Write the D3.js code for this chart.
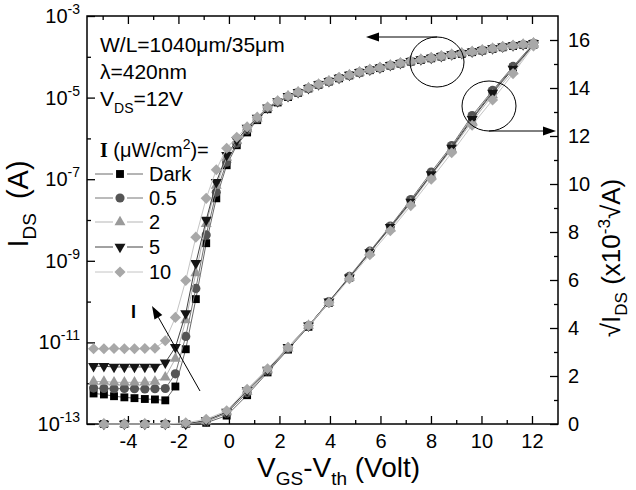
<!DOCTYPE html>
<html><head><meta charset="utf-8">
<script src="https://cdn.jsdelivr.net/npm/d3@7"></script>
<style>
body{margin:0;background:#fff}
svg{display:block}
text{font-family:"Liberation Sans",Arial,sans-serif;fill:#000}
</style>
</head><body>
<svg id="c" width="636" height="490"></svg>
<script>
// ---------- data ----------
const seriesNames = ["Dark", "0.5", "2", "5", "10"];

// V_GS - V_th sweep (V) for the log(I_DS) curves
const vgs = [-5.36, -4.95, -4.55, -4.14, -3.74, -3.33, -2.93, -2.52, -2.12, -1.71,
  -1.31, -0.90, -0.50, -0.09, 0.31, 0.72, 1.12, 1.53, 1.93, 2.34,
  2.74, 3.15, 3.55, 3.96, 4.36, 4.77, 5.17, 5.58, 5.98, 6.39,
  6.79, 7.20, 7.60, 8.01, 8.41, 8.82, 9.22, 9.63, 10.03, 10.44,
  10.84, 11.25, 11.65, 12.06];

// I_DS (A)
const idsDark = [5.6e-13, 5.3e-13, 4.8e-13, 4.5e-13, 4.3e-13, 4.1e-13, 4.0e-13, 3.8e-13, 8.3e-13, 6.8e-12,
  1.15e-10, 2.7e-9, 3.4e-8, 2.2e-7, 6.8e-7, 1.4e-6, 2.8e-6, 5.2e-6, 7.6e-6, 1.03e-5,
  1.31e-5, 1.67e-5, 2.06e-5, 2.47e-5, 2.97e-5, 3.49e-5, 4.10e-5, 4.70e-5, 5.28e-5, 6.06e-5,
  6.80e-5, 7.62e-5, 8.36e-5, 9.17e-5, 1.01e-4, 1.10e-4, 1.18e-4, 1.30e-4, 1.42e-4, 1.56e-4,
  1.71e-4, 1.83e-4, 1.96e-4, 2.10e-4];
const ids05 = [7.6e-13, 7.4e-13, 7.3e-13, 7.4e-13, 7.3e-13, 7.2e-13, 7.3e-13, 7.4e-13, 1.7e-12, 1.4e-11,
  2.1e-10, 4.3e-9, 4.8e-8, 2.6e-7, 7.6e-7, 1.6e-6, 3.0e-6, 5.5e-6, 7.9e-6, 1.06e-5,
  1.34e-5, 1.69e-5, 2.08e-5, 2.50e-5, 3.00e-5, 3.53e-5, 4.15e-5, 4.76e-5, 5.34e-5, 6.13e-5,
  6.88e-5, 7.71e-5, 8.46e-5, 9.28e-5, 1.02e-4, 1.12e-4, 1.20e-4, 1.31e-4, 1.44e-4, 1.58e-4,
  1.73e-4, 1.86e-4, 1.98e-4, 2.13e-4];
const ids2 = [1.1e-12, 1.1e-12, 1.05e-12, 1.05e-12, 1.05e-12, 1.05e-12, 1.1e-12, 1.4e-12, 4.0e-12, 3.5e-11,
  5.0e-10, 8.0e-9, 7.0e-8, 3.4e-7, 8.8e-7, 1.7e-6, 3.1e-6, 5.6e-6, 8.0e-6, 1.07e-5,
  1.35e-5, 1.70e-5, 2.10e-5, 2.52e-5, 3.03e-5, 3.56e-5, 4.19e-5, 4.80e-5, 5.39e-5, 6.18e-5,
  6.94e-5, 7.78e-5, 8.54e-5, 9.36e-5, 1.03e-4, 1.13e-4, 1.21e-4, 1.32e-4, 1.45e-4, 1.59e-4,
  1.74e-4, 1.87e-4, 2.00e-4, 2.15e-4];
const ids5 = [2.6e-12, 2.6e-12, 2.5e-12, 2.5e-12, 2.5e-12, 2.5e-12, 2.5e-12, 3.2e-12, 7.6e-12, 5.1e-11,
  8.7e-10, 1.0e-8, 8.5e-8, 3.9e-7, 9.0e-7, 1.8e-6, 3.2e-6, 5.7e-6, 8.1e-6, 1.08e-5,
  1.36e-5, 1.71e-5, 2.11e-5, 2.54e-5, 3.05e-5, 3.58e-5, 4.22e-5, 4.84e-5, 5.43e-5, 6.23e-5,
  6.99e-5, 7.84e-5, 8.60e-5, 9.43e-5, 1.04e-4, 1.14e-4, 1.22e-4, 1.33e-4, 1.46e-4, 1.60e-4,
  1.76e-4, 1.89e-4, 2.02e-4, 2.17e-4];
const ids10 = [7.0e-12, 7.0e-12, 7.1e-12, 7.0e-12, 7.0e-12, 7.1e-12, 7.2e-12, 1.1e-11, 4.1e-11, 3.3e-10,
  3.8e-9, 3.4e-8, 1.7e-7, 5.75e-7, 1.07e-6, 1.91e-6, 3.31e-6, 5.89e-6, 8.32e-6, 1.10e-5,
  1.38e-5, 1.74e-5, 2.14e-5, 2.57e-5, 3.09e-5, 3.63e-5, 4.27e-5, 4.90e-5, 5.50e-5, 6.31e-5,
  7.08e-5, 7.94e-5, 8.71e-5, 9.55e-5, 1.05e-4, 1.15e-4, 1.23e-4, 1.35e-4, 1.48e-4, 1.62e-4,
  1.78e-4, 1.91e-4, 2.04e-4, 2.19e-4];

// V_GS - V_th for the sqrt(I_DS) curves
const vgsSqrt = [-4.95, -4.14, -3.33, -2.52, -1.71, -0.90, -0.09, 0.72, 1.53, 2.34, 3.15,
  3.96, 4.77, 5.58, 6.39, 7.20, 8.01, 8.82, 9.63, 10.44, 11.25, 12.06];
// sqrt(I_DS) (x1e-3 sqrt(A))
const sqDark = [0, 0, 0, 0, 0, 0.05, 0.35, 1.2, 2.15, 3.1, 4.05, 5.05, 6.1, 7.15, 8.2, 9.3, 10.4, 11.55, 12.75, 13.85, 14.85, 15.8];
const sq05 = [0, 0, 0, 0, 0, 0.1, 0.45, 1.3, 2.2, 3.15, 4.1, 5.1, 6.15, 7.2, 8.25, 9.35, 10.5, 11.6, 12.85, 13.9, 14.9, 15.85];
const sq2 = [0, 0, 0, 0, 0, 0.12, 0.5, 1.35, 2.25, 3.15, 4.1, 5.05, 6.1, 7.15, 8.15, 9.2, 10.35, 11.45, 12.6, 13.7, 14.7, 15.8];
const sq5 = [0, 0, 0, 0, 0, 0.15, 0.5, 1.4, 2.25, 3.2, 4.1, 5.1, 6.1, 7.15, 8.2, 9.25, 10.4, 11.5, 12.7, 13.8, 14.8, 15.8];
const sq10 = [0, 0, 0, 0, 0.05, 0.2, 0.55, 1.45, 2.3, 3.2, 4.1, 5.05, 6.05, 7.05, 8.05, 9.1, 10.2, 11.3, 12.45, 13.5, 14.6, 15.75];

// ticks
const xMajor = [-4, -2, 0, 2, 4, 6, 8, 10, 12];
const xMinor = [-5, -3, -1, 1, 3, 5, 7, 9, 11];
const yLeftMajor = [1e-3, 1e-5, 1e-7, 1e-9, 1e-11, 1e-13];
const yLeftExp = ["-3", "-5", "-7", "-9", "-11", "-13"];
const yLeftMinor = [1e-4, 1e-6, 1e-8, 1e-10, 1e-12];
const yRightMajor = [0, 2, 4, 6, 8, 10, 12, 14, 16];
const yRightMinor = [1, 3, 5, 7, 9, 11, 13, 15];

// ---------- drawing ----------
const logData = [idsDark, ids05, ids2, ids5, ids10];
const sqData = [sqDark, sq05, sq2, sq5, sq10];
const markColor = ["#000000", "#555555", "#9a9a9a", "#151515", "#a8a8a8"];
const lineColor = ["#6a6a6a", "#777777", "#b5b5b5", "#444444", "#c4c4c4"];
const symType = [d3.symbolSquare, d3.symbolCircle, d3.symbolTriangle, d3.symbolTriangle, d3.symbolSquare];
const symSize = [62, 66, 52, 52, 62];
const symRot = [0, 0, 0, 180, 45];

const svg = d3.select("#c");
const L = 87, R = 558, T = 16, B = 424;
const x = d3.scaleLinear().domain([-5.62, 13.03]).range([L, R]);
const yL = d3.scaleLog().domain([1e-13, 1e-3]).range([B, T]);
const yR = d3.scaleLinear().domain([0, 17]).range([B, T]);

function styleAxis(g) {
  g.select(".domain").remove();
  g.selectAll(".tick line").attr("stroke", "#000").attr("stroke-width", 1.3);
  g.attr("font-size", 20).attr("font-family", "Liberation Sans, Arial, sans-serif");
  g.selectAll(".tick text").attr("fill", "#000");
}

// bottom axis
svg.append("g").attr("transform", `translate(0,${B})`)
  .call(d3.axisBottom(x).tickValues(xMajor).tickSize(-8).tickPadding(10).tickFormat(d => String(d)))
  .call(styleAxis);
svg.append("g").attr("transform", `translate(0,${B})`)
  .call(d3.axisBottom(x).tickValues(xMinor).tickSize(-4).tickFormat(""))
  .call(styleAxis);
// top axis
svg.append("g").attr("transform", `translate(0,${T})`)
  .call(d3.axisTop(x).tickValues(xMajor).tickSize(-8).tickFormat(""))
  .call(styleAxis);
svg.append("g").attr("transform", `translate(0,${T})`)
  .call(d3.axisTop(x).tickValues(xMinor).tickSize(-4).tickFormat(""))
  .call(styleAxis);
// left axis
svg.append("g").attr("transform", `translate(${L},0)`)
  .call(d3.axisLeft(yL).tickValues(yLeftMajor).tickSize(-8).tickFormat(""))
  .call(styleAxis);
svg.append("g").attr("transform", `translate(${L},0)`)
  .call(d3.axisLeft(yL).tickValues(yLeftMinor).tickSize(-4).tickFormat(""))
  .call(styleAxis);
const ll = svg.append("g").attr("font-size", 20);
yLeftMajor.forEach((v, i) => {
  const t = ll.append("text").attr("x", 80).attr("y", yL(v) + 7).attr("text-anchor", "end");
  t.append("tspan").text("10");
  t.append("tspan").attr("dy", -9).attr("font-size", 14).text(yLeftExp[i]);
});
// right axis
svg.append("g").attr("transform", `translate(${R},0)`)
  .call(d3.axisRight(yR).tickValues(yRightMajor).tickSize(-8).tickPadding(10).tickFormat(d => String(d)))
  .call(styleAxis);
svg.append("g").attr("transform", `translate(${R},0)`)
  .call(d3.axisRight(yR).tickValues(yRightMinor).tickSize(-4).tickFormat(""))
  .call(styleAxis);

// frame
svg.append("rect").attr("x", L).attr("y", T).attr("width", R - L).attr("height", B - T)
  .attr("fill", "none").attr("stroke", "#000").attr("stroke-width", 1.5);

// series
const plot = svg.append("g");
const lineLog = d3.line().x(d => x(d[0])).y(d => yL(d[1]));
const lineSq = d3.line().x(d => x(d[0])).y(d => yR(d[1]));
function sym(i) { return d3.symbol().type(symType[i]).size(symSize[i])(); }

for (let i = 0; i < 5; i++) {
  const pts = vgs.map((v, k) => [v, logData[i][k]]);
  const sp = vgsSqrt.map((v, k) => [v, sqData[i][k]]);
  const g = plot.append("g");
  g.append("path").attr("d", lineLog(pts)).attr("fill", "none").attr("stroke", lineColor[i]).attr("stroke-width", 1);
  g.append("path").attr("d", lineSq(sp)).attr("fill", "none").attr("stroke", lineColor[i]).attr("stroke-width", 1);
  g.selectAll("path.m1").data(pts).enter().append("path").attr("class", "m1")
    .attr("d", sym(i)).attr("fill", markColor[i])
    .attr("transform", d => `translate(${x(d[0])},${yL(d[1])}) rotate(${symRot[i]})`);
  g.selectAll("path.m2").data(sp).enter().append("path").attr("class", "m2")
    .attr("d", sym(i)).attr("fill", markColor[i])
    .attr("transform", d => `translate(${x(d[0])},${yR(d[1])}) rotate(${symRot[i]})`);
}

// annotation texts
const ann = svg.append("g").attr("font-size", 21);
ann.append("text").attr("x", 100).attr("y", 52).text("W/L=1040μm/35μm");
ann.append("text").attr("x", 100).attr("y", 79).text("λ=420nm");
const vds = ann.append("text").attr("x", 100).attr("y", 106);
vds.append("tspan").text("V");
vds.append("tspan").attr("dy", 7).attr("font-size", 14).text("DS");
vds.append("tspan").attr("dy", -7).text("=12V");

// legend
const lg = svg.append("g").attr("font-size", 20);
const hd = lg.append("text").attr("x", 100).attr("y", 157);
hd.append("tspan").attr("font-family", "Liberation Serif, serif").attr("font-weight", "bold").attr("font-size", 20).text("I");
hd.append("tspan").attr("font-size", 20).text(" (μW/cm");
hd.append("tspan").attr("dy", -8).attr("font-size", 14).text("2");
hd.append("tspan").attr("dy", 8).attr("font-size", 20).text(")=");
const rowY = [174, 198, 222, 247, 272];
seriesNames.forEach((nm, i) => {
  const y = rowY[i];
  lg.append("line").attr("x1", 95).attr("x2", 113).attr("y1", y).attr("y2", y).attr("stroke", lineColor[i]).attr("stroke-width", 1);
  lg.append("line").attr("x1", 127).attr("x2", 143).attr("y1", y).attr("y2", y).attr("stroke", lineColor[i]).attr("stroke-width", 1);
  lg.append("path").attr("d", sym(i)).attr("fill", markColor[i]).attr("transform", `translate(120,${y}) rotate(${symRot[i]})`);
  lg.append("text").attr("x", 149).attr("y", y + 7).text(nm);
});

// arrows
function arrow(x1, y1, x2, y2) {
  const g = svg.append("g");
  const dx = x2 - x1, dy = y2 - y1, len = Math.hypot(dx, dy);
  const ux = dx / len, uy = dy / len, hl = 13, hw = 4.5;
  const bx = x2 - ux * hl, by = y2 - uy * hl;
  g.append("line").attr("x1", x1).attr("y1", y1).attr("x2", bx).attr("y2", by).attr("stroke", "#000").attr("stroke-width", 1);
  g.append("path").attr("d", `M${x2},${y2}L${bx - uy * hw},${by + ux * hw}L${bx + uy * hw},${by - ux * hw}Z`).attr("fill", "#000");
}
arrow(200, 391, 152, 306);
svg.append("text").attr("x", 131).attr("y", 318).attr("font-family", "Liberation Serif, serif")
  .attr("font-weight", "bold").attr("font-size", 18).text("I");
svg.append("ellipse").attr("cx", 437).attr("cy", 62).attr("rx", 27).attr("ry", 25).attr("fill", "none").attr("stroke", "#000").attr("stroke-width", 1);
svg.append("ellipse").attr("cx", 489).attr("cy", 106).attr("rx", 27).attr("ry", 25).attr("fill", "none").attr("stroke", "#000").attr("stroke-width", 1);
arrow(437, 37, 366, 37);
arrow(489, 131, 556, 131);

// axis titles
const xt = svg.append("text").attr("x", 257).attr("y", 477).attr("font-size", 28);
xt.append("tspan").text("V");
xt.append("tspan").attr("dy", 8).attr("font-size", 19).text("GS");
xt.append("tspan").attr("dy", -8).text("-V");
xt.append("tspan").attr("dy", 8).attr("font-size", 19).text("th");
xt.append("tspan").attr("dy", -8).text(" (Volt)");

const lt = svg.append("text").attr("transform", "translate(28,204) rotate(-90)").attr("text-anchor", "middle").attr("font-size", 29);
lt.append("tspan").text("I");
lt.append("tspan").attr("dy", 8).attr("font-size", 19).text("DS");
lt.append("tspan").attr("dy", -8).attr("dx", 6).text(" (A)");

const rt = svg.append("text").attr("transform", "translate(620,258) rotate(-90)").attr("text-anchor", "middle").attr("font-size", 26);
rt.append("tspan").text("√I");
rt.append("tspan").attr("dy", 7).attr("font-size", 17).text("DS");
rt.append("tspan").attr("dy", -7).text(" (x10");
rt.append("tspan").attr("dy", -10).attr("font-size", 17).text("-3");
rt.append("tspan").attr("dy", 10).text("√A)");
</script>
</body></html>
